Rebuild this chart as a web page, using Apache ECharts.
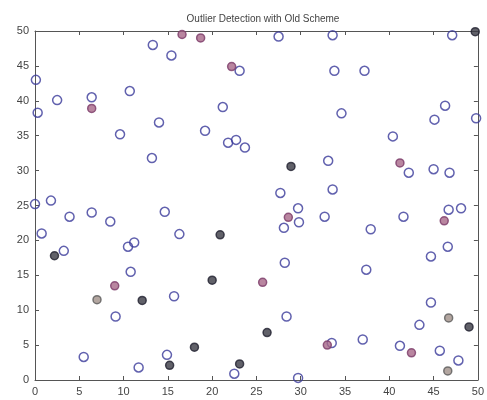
<!DOCTYPE html>
<html>
<head>
<meta charset="utf-8">
<script src="https://cdn.jsdelivr.net/npm/echarts@6/dist/echarts.min.js"></script>
<style>html,body{margin:0;padding:0;background:#fff;}#c{width:487px;height:400px;}</style>
</head>
<body>
<div id="c"></div>
<script>
const titleText = 'Outlier Detection with Old Scheme';
const axisTicks = [0, 5, 10, 15, 20, 25, 30, 35, 40, 45, 50];

const normalPoints = [
  [0.1,43.0],[0.3,38.3],[2.5,40.1],[6.4,40.5],[10.7,41.4],[9.6,35.2],[13.3,48.0],[15.4,46.5],
  [14.0,36.9],[13.2,31.8],[19.2,35.7],[23.1,44.3],[21.2,39.1],[21.8,34.0],[22.7,34.4],[23.7,33.3],
  [27.5,49.2],[33.6,49.4],[47.1,49.4],[33.8,44.3],[37.2,44.3],[34.6,38.2],[46.3,39.3],[45.1,37.3],
  [49.8,37.5],[40.4,34.9],[33.1,31.4],[42.2,29.7],[45.0,30.2],[46.8,29.7],[27.7,26.8],[33.6,27.3],
  [0,25.2],[1.8,25.7],[3.9,23.4],[6.4,24.0],[8.5,22.7],[0.75,21.0],[3.25,18.5],[10.5,19.1],
  [11.2,19.7],[10.8,15.5],[14.65,24.1],[16.3,20.9],[15.7,12.0],[9.1,9.1],[5.5,3.3],[14.9,3.6],
  [11.7,1.8],[22.5,0.9],[29.7,24.6],[29.8,22.6],[28.1,21.8],[32.7,23.4],[37.9,21.6],[41.6,23.4],
  [46.7,24.4],[48.1,24.6],[46.6,19.1],[44.7,17.7],[28.2,16.8],[37.4,15.8],[44.7,11.1],[28.4,9.1],
  [43.4,7.9],[33.5,5.3],[37.0,5.8],[41.2,4.9],[45.7,4.2],[47.8,2.8],[29.7,0.3]
];
const redOutliers = [
  [6.4,38.9],[16.6,49.5],[18.7,49.0],[22.2,44.9],[41.2,31.1],[28.6,23.3],[46.2,22.8],
  [25.7,14.0],[9.0,13.5],[33.0,5.0],[42.5,3.9]
];
const blackOutliers = [
  [28.9,30.6],[49.7,49.9],[2.2,17.8],[20.9,20.8],[20.0,14.3],[12.1,11.4],[18.0,4.7],
  [15.2,2.1],[23.1,2.3],[26.2,6.8],[49.0,7.6]
];
const grayOutliers = [[7.0,11.5],[46.7,8.9],[46.6,1.3]];

const chart = echarts.init(document.getElementById('c'), null, {renderer: 'canvas'});
const font = 'Liberation Sans, Arial, sans-serif';
const axisLineStyle = {color: '#555', width: 1};
function mkAxis(pos, showLabel) {
  return {
    type: 'value', min: 0, max: 50, interval: 5, position: pos,
    axisLine: {show: true, onZero: false, lineStyle: axisLineStyle},
    axisTick: {show: true, inside: true, length: 4, lineStyle: axisLineStyle},
    axisLabel: {show: showLabel, color: '#444', fontSize: 11, fontFamily: font, margin: 6},
    splitLine: {show: false}
  };
}
const ring = (color, fill, size, bw) => ({
  type: 'scatter', symbol: 'circle', symbolSize: size,
  itemStyle: {color: fill, borderColor: color, borderWidth: bw},
  emphasis: {disabled: true}, silent: true
});

chart.setOption({
  backgroundColor: '#fff',
  animation: false,
  title: {
    text: titleText, left: 258, top: 9, textAlign: 'center',
    textStyle: {fontSize: 10, fontWeight: 'normal', color: '#444', fontFamily: font}
  },
  grid: {left: 35, right: 6, top: 31, bottom: 20, containLabel: false},
  xAxis: [mkAxis('bottom', true), mkAxis('top', false)],
  yAxis: [mkAxis('left', true), mkAxis('right', false)],
  series: [
    Object.assign(ring('#3a3a9a', 'rgba(255,255,255,0)', 9, 1.5), {data: normalPoints}),
    Object.assign(ring('#7a3a68', '#a86888', 8, 1.5), {data: redOutliers}),
    Object.assign(ring('#202030', '#3a3a44', 8, 1.5), {data: blackOutliers}),
    Object.assign(ring('#5a5a5a', '#a09088', 8, 1.5), {data: grayOutliers})
  ]
});
</script>
</body>
</html>
